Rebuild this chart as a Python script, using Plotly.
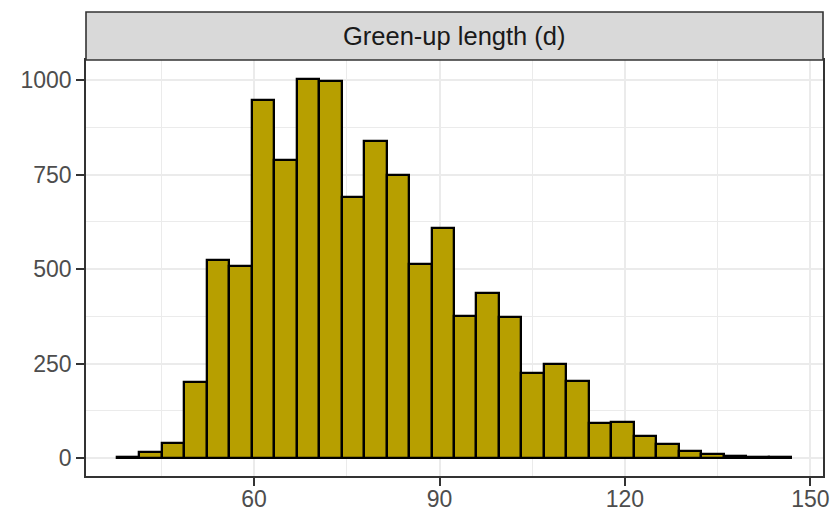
import plotly.graph_objects as go

# Histogram data (30 bins, ggplot-style)
bin_start = 37.82
bin_width = 3.635
counts = [2, 15, 40, 200, 524, 507, 947, 789, 1003, 997, 690, 839, 749, 513,
          609, 375, 437, 374, 226, 250, 203, 92, 95, 58, 36, 19, 10, 6, 4, 2]
strip_label = "Green-up length (d)"
x_ticks = [60, 90, 120, 150]
y_ticks = [0, 250, 500, 750, 1000]

centers = [bin_start + bin_width * (i + 0.5) for i in range(len(counts))]

fig = go.Figure()
fig.add_trace(go.Bar(
    x=centers, y=counts, width=[bin_width] * len(counts),
    marker=dict(color="#B79F00", line=dict(color="black", width=2.3)),
    hoverinfo="x+y",
))

W, H = 832, 511
L, R, T, B = 86, 9.3, 60, 35
plot_h = H - T - B
FONT = "Liberation Sans, Arial, sans-serif"

axis_common = dict(
    showline=True, linecolor="#333333", linewidth=1.6, mirror=True,
    showgrid=True, gridcolor="#EBEBEB", gridwidth=1.6,
    ticks="outside", ticklen=8, tickwidth=2.2, tickcolor="#333333",
    tickfont=dict(family=FONT, size=23, color="#4D4D4D"),
    zeroline=False, automargin=False,
)

fig.update_layout(
    width=W, height=H,
    margin=dict(l=L, r=R, t=T, b=B, pad=0),
    paper_bgcolor="white", plot_bgcolor="white",
    showlegend=False, bargap=0,
    xaxis=dict(range=[32.8, 152.05], tickvals=x_ticks, ticklabelstandoff=-6,
               minor=dict(tickvals=[45, 75, 105, 135], showgrid=True,
                          gridcolor="#EBEBEB", gridwidth=0.9, ticks=""),
               **axis_common),
    yaxis=dict(range=[-47.6, 1053], tickvals=y_ticks,
               minor=dict(tickvals=[125, 375, 625, 875], showgrid=True,
                          gridcolor="#EBEBEB", gridwidth=0.9, ticks=""),
               **axis_common),
)

strip_h = 48 / plot_h
fig.add_shape(type="rect", xref="paper", yref="paper",
              x0=0, x1=1, y0=1, y1=1 + strip_h,
              fillcolor="#D9D9D9", line=dict(color="#333333", width=1.6),
              layer="above")
fig.add_annotation(xref="paper", yref="paper", x=0.5, y=1 + strip_h / 2,
                   text=strip_label, showarrow=False,
                   font=dict(family=FONT, size=25.5, color="#1A1A1A"),
                   xanchor="center", yanchor="middle")

fig.write_html("out.html")
